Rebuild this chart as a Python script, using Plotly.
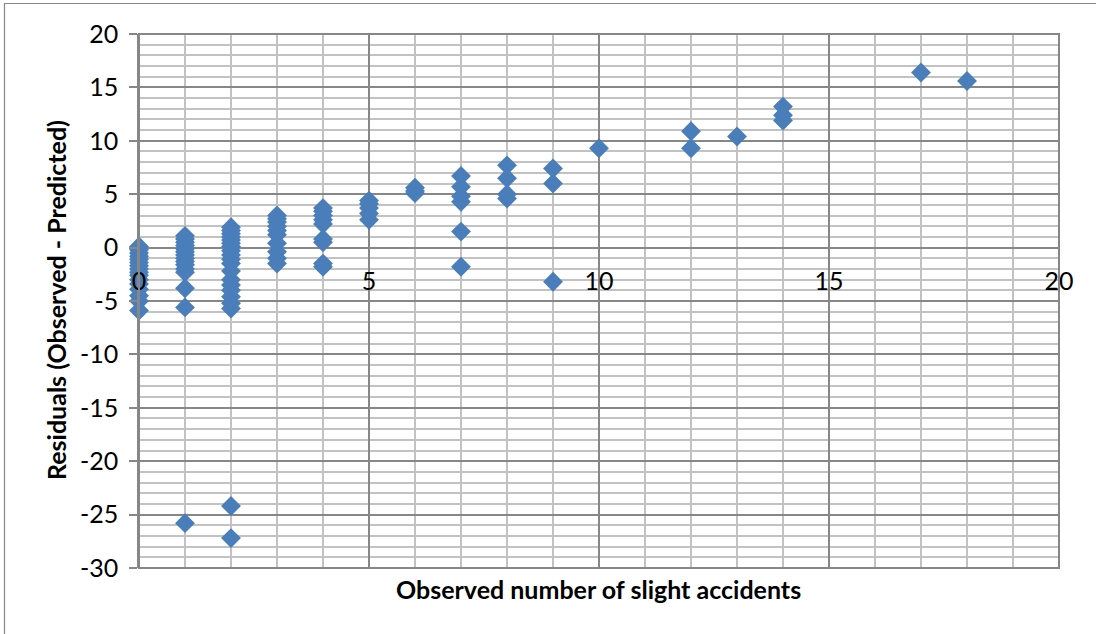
import plotly.graph_objects as go

# Residuals of the slight-accident model against the observed counts
observed = (
    [0] * 16
    + [1] * 15
    + [2] * 20
    + [3] * 10
    + [4] * 9
    + [5] * 5
    + [6] * 3
    + [7] * 6
    + [8] * 4
    + [9] * 3
    + [10, 12, 12, 13, 14, 14, 14, 17, 18]
)
residuals = [
    # 0 accidents
    0.1, -0.2, -0.5, -0.8, -1.1, -1.4, -1.7, -2.0, -2.3, -2.6, -3.0, -3.4, -3.9, -4.5, -5.0, -5.9,
    # 1
    1.1, 0.8, 0.5, 0.2, -0.1, -0.4, -0.7, -1.0, -1.3, -1.6, -2.0, -2.3, -3.8, -5.6, -25.8,
    # 2
    1.9, 1.6, 1.3, 1.0, 0.7, 0.4, 0.1, -0.3, -0.7, -1.1, -1.5, -2.2, -3.0, -3.5, -4.0, -4.6, -5.2, -5.7,
    -24.2, -27.2,
    # 3
    3.0, 2.7, 2.4, 2.0, 1.6, 1.2, 0.4, -0.4, -1.0, -1.5,
    # 4
    3.7, 3.4, 3.0, 2.6, 2.2, 0.8, 0.5, -1.5, -1.8,
    # 5
    4.4, 4.1, 3.7, 3.2, 2.6,
    # 6
    5.6, 5.3, 5.1,
    # 7
    6.7, 5.7, 4.8, 4.3, 1.5, -1.8,
    # 8
    7.7, 6.5, 5.0, 4.6,
    # 9
    7.4, 6.0, -3.2,
    # 10 and above
    9.3, 10.9, 9.3, 10.4, 13.2, 12.4, 11.9, 16.4, 15.6,
]

x_ticks = [0, 5, 10, 15, 20]
y_ticks = [20, 15, 10, 5, 0, -5, -10, -15, -20, -25, -30]

FONT = "Lato"
MAJOR = "#878787"
MINOR = "#c2c2c2"
TICK_SIZE = 25
TITLE_SIZE = 25

W, H = 1096, 634
L, R, T, B = 139, 37, 34, 66
pw, ph = W - L - R, H - T - B

fig = go.Figure(
    go.Scatter(
        x=observed,
        y=residuals,
        mode="markers",
        marker=dict(symbol="diamond", size=15.3, color="#4A7EBB", line=dict(width=0)),
        cliponaxis=False,
        hoverinfo="x+y",
    )
)

fig.update_layout(
    width=W,
    height=H,
    margin=dict(l=L, r=R, t=T, b=B, pad=0),
    paper_bgcolor="white",
    plot_bgcolor="white",
    showlegend=False,
    font=dict(family=FONT, size=TICK_SIZE, color="black"),
    xaxis=dict(
        range=[0, 20],
        tickvals=x_ticks,
        ticktext=[str(v) for v in x_ticks],
        anchor="free",
        position=0.6,
        showline=False,
        zeroline=False,
        ticks="",
        ticklabelstandoff=16,
        showgrid=True,
        gridcolor=MAJOR,
        gridwidth=1.6,
        minor=dict(dtick=1, showgrid=True, gridcolor=MINOR, gridwidth=1.5),
        tickfont=dict(family=FONT, size=TICK_SIZE),
    ),
    yaxis=dict(
        range=[-30, 20],
        tickvals=y_ticks,
        ticktext=[str(v) for v in y_ticks],
        showline=True,
        linecolor=MAJOR,
        linewidth=1.6,
        zeroline=False,
        ticks="outside",
        ticklen=8,
        tickcolor=MAJOR,
        tickwidth=1.6,
        ticklabelstandoff=6,
        showgrid=True,
        gridcolor=MAJOR,
        gridwidth=1.6,
        minor=dict(dtick=1, showgrid=True, gridcolor=MINOR, gridwidth=1.5),
        tickfont=dict(family=FONT, size=TICK_SIZE),
    ),
    shapes=[
        # plot-area frame
        dict(type="rect", xref="paper", yref="paper", x0=0, x1=1, y0=0, y1=1,
             line=dict(color=MAJOR, width=2), layer="above"),
        # outer chart border
        dict(type="rect", xref="paper", yref="paper",
             x0=(4.5 - L) / pw, x1=(W + 10 - L) / pw,
             y0=-(H + 10 - (T + ph)) / ph, y1=1 + (T - 3.5) / ph,
             line=dict(color=MAJOR, width=1.2), layer="below"),
    ],
    annotations=[
        dict(text="<b>Observed number of slight accidents</b>", xref="paper", yref="paper",
             x=(598 - L) / pw, y=-(589 - (T + ph)) / ph, showarrow=False,
             xanchor="center", yanchor="middle", font=dict(family=FONT, size=TITLE_SIZE)),
        dict(text="<b>Residuals (Observed - Predicted)</b>", xref="paper", yref="paper",
             x=(56 - L) / pw, y=(T + ph - 300) / ph, showarrow=False, textangle=-90,
             xanchor="center", yanchor="middle", font=dict(family=FONT, size=TITLE_SIZE)),
    ],
)

fig.write_html("out.html")
